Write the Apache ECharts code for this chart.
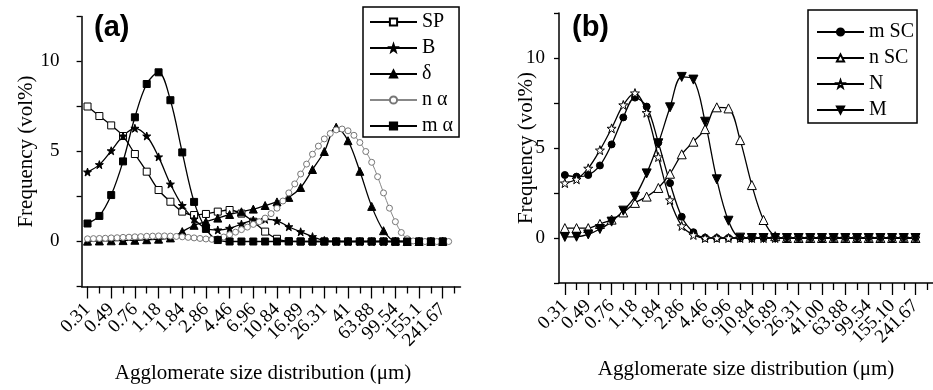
<!DOCTYPE html>
<html>
<head>
<meta charset="utf-8">
<script src="https://cdn.jsdelivr.net/npm/echarts@6/dist/echarts.min.js"></script>
<style>
  html, body { margin: 0; padding: 0; background: #fff; }
  #chart { width: 933px; height: 390px; }
</style>
</head>
<body>
<div id="chart"></div>
<script>
// tick labels (every other size class is labelled)
var labelsA = ['0.31', '0.49', '0.76', '1.18', '1.84', '2.86', '4.46', '6.96', '10.84', '16.89', '26.31', '41', '63.88', '99.54', '155.1', '241.67'];
var labelsB = ['0.31', '0.49', '0.76', '1.18', '1.84', '2.86', '4.46', '6.96', '10.84', '16.89', '26.31', '41.00', '63.88', '99.54', '155.10', '241.67'];

// panel (a), one value per size class
var sp = [7.5, 6.97, 6.45, 5.86, 4.86, 3.88, 2.86, 2.21, 1.66, 1.47, 1.53, 1.66, 1.75, 1.55, 1.1, 0.55, 0.15, 0.02, 0, 0, 0, 0, 0, 0, 0, 0, 0, 0, 0, 0, 0];
var b = [3.86, 4.27, 5.04, 5.86, 6.29, 5.86, 4.7, 3.19, 2.0, 1.25, 0.73, 0.64, 0.73, 0.97, 1.19, 1.23, 1.15, 0.82, 0.54, 0.27, 0.06, 0, 0, 0, 0, 0, 0, 0, 0, 0, 0];
var delta = [0.02, 0.03, 0.04, 0.05, 0.07, 0.1, 0.13, 0.2, 0.55, 0.9, 1.1, 1.3, 1.5, 1.65, 1.8, 2.0, 2.2, 2.45, 3.0, 4.0, 5.0, 6.35, 5.6, 3.9, 1.95, 0.6, 0.02, 0, 0, 0, 0];
var ma = [1.0, 1.42, 2.58, 4.45, 6.9, 8.75, 9.4, 7.85, 4.95, 2.2, 0.7, 0.08, 0, 0, 0, 0, 0, 0, 0, 0, 0, 0, 0, 0, 0, 0, 0, 0, 0, 0, 0];
// n alpha is measured on half size classes
var na = [0.15, 0.16, 0.17, 0.18, 0.2, 0.21, 0.23, 0.24, 0.26, 0.27, 0.29, 0.3, 0.31, 0.31, 0.3, 0.28,
  0.26, 0.23, 0.2, 0.17, 0.14, 0.12, 0.15, 0.25, 0.38, 0.52, 0.66, 0.8, 0.95, 1.1, 1.3, 1.55,
  1.85, 2.25, 2.7, 3.2, 3.75, 4.3, 4.85, 5.3, 5.7, 6.0, 6.2, 6.25, 6.15, 5.9, 5.5, 5.0,
  4.4, 3.6, 2.7, 1.85, 1.1, 0.5, 0.15, 0.03, 0, 0, 0, 0, 0, 0];

// panel (b)
var mSC = [3.5, 3.41, 3.5, 4.03, 5.2, 6.7, 7.8, 7.3, 5.3, 3.05, 1.18, 0.32, 0.02, 0, 0, 0, 0, 0, 0, 0, 0, 0, 0, 0, 0, 0, 0, 0, 0, 0, 0];
var nSC = [0.55, 0.55, 0.55, 0.78, 1.02, 1.42, 1.95, 2.3, 2.78, 3.57, 4.65, 5.35, 6.05, 7.26, 7.2, 5.44, 2.94, 1.0, 0.1, 0, 0, 0, 0, 0, 0, 0, 0, 0, 0, 0, 0];
var nn = [3.05, 3.26, 3.87, 4.88, 6.09, 7.39, 8.05, 6.96, 4.5, 2.11, 0.67, 0.17, 0, 0, 0, 0, 0, 0, 0, 0, 0, 0, 0, 0, 0, 0, 0, 0, 0, 0, 0];
var mm = [0.06, 0.07, 0.2, 0.5, 0.91, 1.52, 2.3, 3.59, 5.26, 7.26, 8.95, 8.8, 6.46, 3.26, 0.96, 0.02, 0, 0, 0, 0, 0, 0, 0, 0, 0, 0, 0, 0, 0, 0, 0];

var star = 'path://M0,-10L2.35,-3.24L9.51,-3.09L3.8,1.24L5.88,8.09L0,4L-5.88,8.09L-3.8,1.24L-9.51,-3.09L-2.35,-3.24Z';
var serif = 'Liberation Serif';
var NCLASS = 32;

function idx(arr) { return arr.map(function (v, i) { return [i, v]; }); }
function half(arr) { return arr.map(function (v, i) { return [i / 2, v]; }); }
// one category per size class, labels on the even ones
function classes(labels) {
  var r = [];
  for (var i = 0; i < NCLASS; i++) r.push(i % 2 === 0 && labels[i / 2] ? labels[i / 2] : '');
  return r;
}

function valueX(grid) {
  return { type: 'value', gridIndex: grid, min: -0.5, max: NCLASS - 0.5, show: false, axisLine: { onZero: false } };
}
function majorX(grid, labels) {
  return {
    type: 'category', gridIndex: grid, position: 'bottom', data: classes(labels), boundaryGap: true,
    axisLine: { show: true, onZero: false, lineStyle: { color: '#000', width: 1.5 } },
    axisTick: { show: true, alignWithLabel: true, length: 12, lineStyle: { color: '#000', width: 1.3 },
      interval: function (i) { return i % 2 === 0; } },
    axisLabel: {
      interval: 0, rotate: 45, margin: 20, color: '#000',
      fontFamily: serif, fontSize: 19
    },
    splitLine: { show: false },
    name: 'Agglomerate size distribution (\u03bcm)', nameLocation: 'middle', nameGap: 76,
    nameMoveOverlap: false,
    nameTextStyle: { color: '#000', fontFamily: serif, fontSize: 21, padding: grid === 0 ? [0, 16, 0, 0] : [0, 0, 0, 0] }
  };
}
function minorX(grid) {
  return {
    type: 'category', gridIndex: grid, position: 'bottom', data: classes([]), boundaryGap: true,
    axisLine: { show: false, onZero: false },
    axisTick: { show: true, alignWithLabel: true, length: 7, lineStyle: { color: '#000', width: 1.3 },
      interval: function (i) { return i % 2 === 1; } },
    axisLabel: { show: false },
    splitLine: { show: false }
  };
}
function yAx(grid, gap) {
  return {
    type: 'value', gridIndex: grid, min: -2.5, max: 12.5, interval: 2.5,
    axisLine: { show: true, onZero: false, lineStyle: { color: '#000', width: 1.5 } },
    axisTick: { show: true, length: 5, lineStyle: { color: '#000', width: 1.3 } },
    axisLabel: {
      color: '#000', fontFamily: serif, fontSize: 19, margin: grid === 0 ? 22 : 14,
      formatter: function (v) { return (v === 0 || v === 5 || v === 10) ? String(v) : ''; }
    },
    splitLine: { show: false },
    name: 'Frequency (vol%)', nameLocation: 'middle', nameGap: gap, nameMoveOverlap: false,
    nameTextStyle: { color: '#000', fontFamily: serif, fontSize: 21 }
  };
}

function line(name, data, xi, yi, symbol, size, fill, stroke, extra) {
  var s = {
    name: name, type: 'line', xAxisIndex: xi, yAxisIndex: yi, data: data,
    smooth: 0.35, showAllSymbol: true, symbol: symbol, symbolSize: size,
    lineStyle: { color: stroke, width: 1.3 },
    itemStyle: { color: fill, borderColor: stroke, borderWidth: 1 },
    z: 3
  };
  if (extra) for (var k in extra) s[k] = extra[k];
  return s;
}

function legend(left, top, names, pad) {
  return {
    data: names, orient: 'vertical', left: left, top: top,
    itemWidth: 47, itemHeight: 9, itemGap: 6, padding: pad,
    borderColor: '#000', borderWidth: 1.5,
    textStyle: { color: '#000', fontFamily: serif, fontSize: 20, lineHeight: 20 }
  };
}

var chart = echarts.init(document.getElementById('chart'), null, { renderer: 'canvas' });

var option = {
  animation: false,
  backgroundColor: '#fff',
  title: [
    { text: '(a)', left: 89, top: 8, textStyle: { fontFamily: 'Liberation Sans', fontWeight: 'bold', fontSize: 29, color: '#000' } },
    { text: '(b)', left: 567, top: 8, textStyle: { fontFamily: 'Liberation Sans', fontWeight: 'bold', fontSize: 29, color: '#000' } }
  ],
  legend: [
    legend(363, 7, ['SP', 'B', '\u03b4', 'n \u03b1', 'm \u03b1'], [5, 6, 1, 6]),
    legend(808, 10, ['m SC', 'n SC', 'N', 'M'], [12, 3, 3, 8])
  ],
  grid: [
    { left: 81.6, right: 472.5, top: 16.5, height: 270 },
    { left: 559, right: -6.5, top: 13, height: 270 }
  ],
  xAxis: [valueX(0), majorX(0, labelsA), minorX(0), valueX(1), majorX(1, labelsB), minorX(1)],
  yAxis: [yAx(0, 45), yAx(1, 22)],
  series: [
    line('SP', idx(sp), 0, 0, 'rect', 7, '#fff', '#000'),
    line('B', idx(b), 0, 0, star, 8, '#000', '#000'),
    line('\u03b4', idx(delta), 0, 0, 'triangle', 8, '#000', '#000'),
    line('n \u03b1', half(na), 0, 0, 'circle', 6, '#fff', '#777', { lineStyle: { color: '#888', width: 1 } }),
    line('m \u03b1', idx(ma), 0, 0, 'rect', 7, '#000', '#000'),
    line('m SC', idx(mSC), 3, 1, 'circle', 7, '#000', '#000'),
    line('n SC', idx(nSC), 3, 1, 'triangle', 9, '#fff', '#000'),
    line('N', idx(nn), 3, 1, star, 9, '#fff', '#000'),
    line('M', idx(mm), 3, 1, 'triangle', 9, '#000', '#000', { symbolRotate: 180 })
  ]
};

chart.setOption(option);
</script>
</body>
</html>
